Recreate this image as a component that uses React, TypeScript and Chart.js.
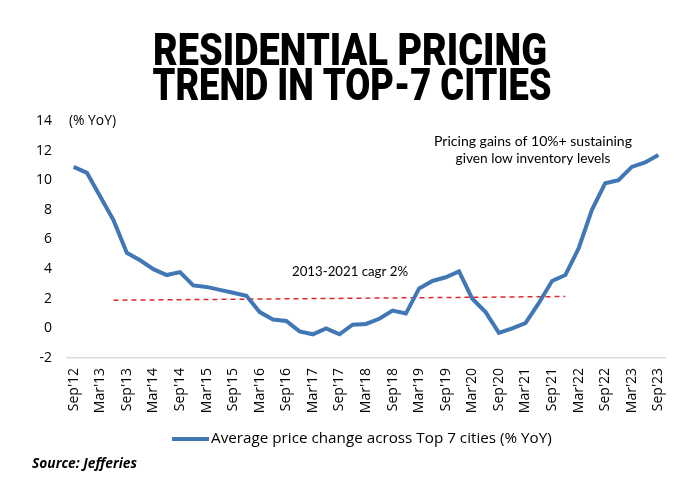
import React, { useEffect, useRef } from "react";
import { Chart, registerables } from "chart.js";

Chart.register(...registerables);

const categories = [
  "Sep'12", "Dec'12",
  "Mar'13", "Jun'13", "Sep'13", "Dec'13",
  "Mar'14", "Jun'14", "Sep'14", "Dec'14",
  "Mar'15", "Jun'15", "Sep'15", "Dec'15",
  "Mar'16", "Jun'16", "Sep'16", "Dec'16",
  "Mar'17", "Jun'17", "Sep'17", "Dec'17",
  "Mar'18", "Jun'18", "Sep'18", "Dec'18",
  "Mar'19", "Jun'19", "Sep'19", "Dec'19",
  "Mar'20", "Jun'20", "Sep'20", "Dec'20",
  "Mar'21", "Jun'21", "Sep'21", "Dec'21",
  "Mar'22", "Jun'22", "Sep'22", "Dec'22",
  "Mar'23", "Jun'23", "Sep'23",
];

const priceChange = [
  10.9, 10.5,
  8.9, 7.3, 5.1, 4.6,
  4.0, 3.6, 3.8, 2.9,
  2.8, 2.6, 2.4, 2.2,
  1.1, 0.6, 0.5, -0.2,
  -0.4, 0.0, -0.4, 0.25,
  0.3, 0.65, 1.2, 1.0,
  2.7, 3.2, 3.45, 3.85,
  2.0, 1.1, -0.3, 0.0,
  0.35, 1.7, 3.2, 3.6,
  5.4, 8.0, 9.8, 10.0,
  10.9, 11.2, 11.7,
];

const trendLabels = ["Jun'13", "Dec'21"];
const trendValues = [1.9, 2.15];

const seriesName = "Average price change across Top 7 cities (% YoY)";
const titleLines = ["RESIDENTIAL PRICING", "TREND IN TOP-7 CITIES"];
const cagrNote = "2013-2021 cagr 2%";
const pricingNote = ["Pricing gains of 10%+ sustaining", "given low inventory levels"];
const unitLabel = "(% YoY)";
const sourceText = "Source: Jefferies";

const BLUE = "#4077b4";
const RED = "#e0282a";
const FONT = "'Open Sans', 'Noto Sans', sans-serif";
const NOTE_FONT = "Lato, 'Open Sans', sans-serif";

function fitText(
  ctx: CanvasRenderingContext2D,
  text: string,
  x: number,
  y: number,
  width: number,
  style: string,
  family: string = FONT
) {
  ctx.font = `${style} 14px ${family}`;
  const w = ctx.measureText(text).width;
  const size = (14 * width) / w;
  ctx.font = `${style} ${size.toFixed(2)}px ${family}`;
  ctx.fillText(text, x, y);
}

export default function App() {
  const ref = useRef<HTMLCanvasElement | null>(null);

  useEffect(() => {
    document.body.style.margin = "0";
    const canvas = ref.current;
    if (!canvas) return;

    const textPlugin = {
      id: "texts",
      afterDraw(chart: any) {
        const ctx = chart.ctx as CanvasRenderingContext2D;
        ctx.save();
        ctx.fillStyle = "#000";
        // Title
        ctx.textAlign = "center";
        ctx.textBaseline = "alphabetic";
        ctx.font = "900 44px Roboto, 'DejaVu Sans', sans-serif";
        ctx.fillText(titleLines[0], 350, 65, 394);
        ctx.fillText(titleLines[1], 352, 100, 399);

        // unit label
        ctx.textAlign = "left";
        ctx.textBaseline = "middle";
        fitText(ctx, unitLabel, 69, 121, 47, "");

        // cagr note
        ctx.textAlign = "center";
        fitText(ctx, cagrNote, 350, 272, 116, "", NOTE_FONT);

        // pricing note
        fitText(ctx, pricingNote[0], 533, 141, 198, "", NOTE_FONT);
        fitText(ctx, pricingNote[1], 533, 159, 155, "", NOTE_FONT);

        // legend
        ctx.strokeStyle = BLUE;
        ctx.lineWidth = 4;
        ctx.beginPath();
        ctx.moveTo(172, 439);
        ctx.lineTo(209, 439);
        ctx.stroke();
        ctx.textAlign = "left";
        fitText(ctx, seriesName, 211, 439, 341, "");

        // source
        ctx.textBaseline = "alphabetic";
        fitText(ctx, sourceText, 32, 468, 105, "italic bold");
        ctx.restore();
      },
    };

    const chart = new Chart(canvas, {
      type: "line",
      data: {
        labels: categories,
        datasets: [
          {
            label: seriesName,
            data: priceChange,
            borderColor: BLUE,
            backgroundColor: BLUE,
            borderWidth: 4,
            pointRadius: 0,
            tension: 0,
            order: 1,
          },
          {
            label: "trend",
            data: trendLabels.map((l, i) => ({ x: l, y: trendValues[i] })),
            borderColor: RED,
            borderWidth: 1.5,
            borderDash: [5, 4],
            pointRadius: 0,
            order: 2,
          },
        ],
      },
      options: {
        animation: false,
        responsive: false,
        layout: { padding: { top: 121, left: 0, right: 35, bottom: 72 } },
        plugins: {
          legend: { display: false },
          tooltip: { enabled: false },
        },
        scales: {
          x: {
            offset: true,
            grid: { display: false, drawTicks: false },
            border: { display: true, color: "#d9d9d9", width: 1.5 },
            ticks: {
              autoSkip: false,
              maxRotation: 90,
              minRotation: 90,
              padding: 10,
              color: "#000",
              font: { family: FONT, size: 14 },
              callback: (_v: any, i: number) => (i % 2 === 0 ? categories[i] : ""),
            },
            afterFit: (s: any) => {
              s.height = 70;
            },
          },
          y: {
            min: -2,
            max: 14,
            grid: { display: false, drawTicks: false },
            border: { display: false },
            ticks: {
              stepSize: 2,
              padding: 15,
              color: "#000",
              font: { family: FONT, size: 14 },
            },
            afterFit: (s: any) => {
              s.width = 67;
            },
          },
        },
      },
      plugins: [textPlugin],
    });

    return () => chart.destroy();
  }, []);

  return (
    <div style={{ width: 700, height: 500, background: "#fff" }}>
      <canvas ref={ref} width={700} height={500} />
    </div>
  );
}
